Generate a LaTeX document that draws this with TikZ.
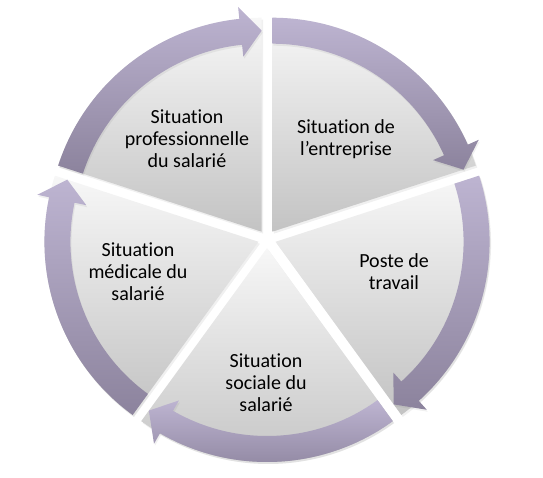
\documentclass[tikz,border=0pt]{standalone}
\usepackage{fontspec}
\setmainfont{Carlito}[Ligatures={NoCommon,NoContextual}]
\usepackage{xcolor}
\usetikzlibrary{shadows}
\definecolor{sliceTop}{HTML}{F7F7F7}
\definecolor{sliceBot}{HTML}{C3C3C3}
\definecolor{ringTop}{HTML}{BDB4D1}
\definecolor{ringBot}{HTML}{8C839D}

\begin{document}
\begin{tikzpicture}[x=1pt,y=1pt,
  slice/.style={top color=sliceTop,bottom color=sliceBot,draw=none,drop shadow={opacity=.12,shadow xshift=1.5pt,shadow yshift=-2pt}},
  turn/.style={top color=ringTop,bottom color=ringBot,draw=none,drop shadow={opacity=.12,shadow xshift=1pt,shadow yshift=-2pt}},
  txt/.style={align=center,font=\fontsize{20}{22}\selectfont,inner sep=0pt}]
\useasboundingbox (-267,-239) rectangle (276,239);
% five slices, each pushed out a little from the centre
\foreach \a/\b in {90/18,18/-54,-54/-126,-126/-198,162/90}{
  \pgfmathsetmacro{\mid}{(\a+\b)/2}
  \begin{scope}[shift={(\mid:9pt)}]
    \path[slice] (0,0) -- (\a:214pt) arc[start angle=\a,end angle=\b,radius=214pt] -- cycle;
  \end{scope}
}
% the arrows on the rim
\foreach \a/\b in {90/18,18/-54,-54/-126,-126/-198,162/90}{
  \pgfmathsetmacro{\mid}{(\a+\b)/2}
  \pgfmathsetmacro{\hd}{\b+6}
  \begin{scope}[shift={(\mid:9pt)}]
    \path[turn] (\a:214pt) arc[start angle=\a,end angle=\hd,radius=214pt]
      -- (\hd:226pt) -- (\b:201pt) -- (\hd:176pt) -- (\hd:188pt)
      arc[start angle=\hd,end angle=\a,radius=188pt] -- cycle;
  \end{scope}
}
\node[txt] (prof) at (-80,100) {Situation\\professionnelle\\du salarié};
\node[txt] (entreprise) at (79,100) {Situation de\\l’entreprise};
\node[txt] (poste) at (127,-33) {Poste de\\travail};
\node[txt] (sociale) at (-1,-144) {Situation\\sociale du\\salarié};
\node[txt] (medicale) at (-129,-33) {Situation\\médicale du\\salarié};
\end{tikzpicture}
\end{document}
